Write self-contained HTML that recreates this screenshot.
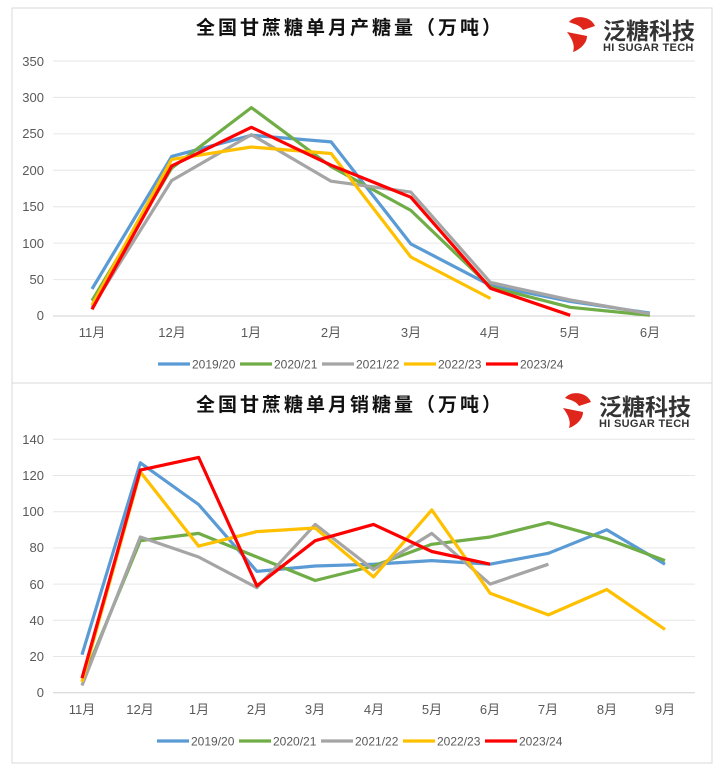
<!DOCTYPE html>
<html><head><meta charset="utf-8"><style>
html,body{margin:0;padding:0;background:#fff;}
svg{display:block;font-family:"Liberation Sans","Noto Sans CJK SC",sans-serif;}
</style></head><body>
<svg width="720" height="775" viewBox="0 0 720 775" xmlns="http://www.w3.org/2000/svg">
<rect x="12" y="8" width="700" height="375" fill="#fff" stroke="#d9d9d9"/>
<rect x="12" y="383" width="700" height="380" fill="#fff" stroke="#d9d9d9"/>

<!-- Chart 1 -->
<text x="350" y="34" font-size="19" font-weight="bold" text-anchor="middle" fill="#111" font-family="'Noto Sans CJK SC',sans-serif" letter-spacing="3">全国甘蔗糖单月产糖量（万吨）</text>
<g stroke="#e6e6e6" stroke-width="1">
<line x1="53" x2="695" y1="61" y2="61"/><line x1="53" x2="695" y1="97.4" y2="97.4"/><line x1="53" x2="695" y1="133.9" y2="133.9"/><line x1="53" x2="695" y1="170.3" y2="170.3"/><line x1="53" x2="695" y1="206.7" y2="206.7"/><line x1="53" x2="695" y1="243.1" y2="243.1"/><line x1="53" x2="695" y1="279.6" y2="279.6"/><line x1="53" x2="695" y1="316" y2="316" stroke="#d0d0d0"/>
</g>
<g font-size="13" fill="#595959" text-anchor="end">
<text x="44" y="66">350</text><text x="44" y="102">300</text><text x="44" y="138">250</text><text x="44" y="175">200</text><text x="44" y="211">150</text><text x="44" y="248">100</text><text x="44" y="284">50</text><text x="44" y="320">0</text>
</g>
<g font-size="13" fill="#595959" text-anchor="middle" font-family="'Liberation Sans','Noto Sans CJK SC',sans-serif">
<text x="92" y="337">11月</text><text x="172" y="337">12月</text><text x="251" y="337">1月</text><text x="331" y="337">2月</text><text x="411" y="337">3月</text><text x="490" y="337">4月</text><text x="570" y="337">5月</text><text x="650" y="337">6月</text>
</g>
<g fill="none" stroke-width="3.2" stroke-linejoin="round">
<polyline stroke="#5b9bd5" points="92,289 171.7,156.4 251.4,135.3 331.1,141.9 410.8,243.9 490.5,285.4 570.2,301.4 649.9,313.1"/>
<polyline stroke="#70ad47" points="92,300.7 171.7,168.1 251.4,107.6 331.1,166.6 410.8,210.4 490.5,286.9 570.2,307.3 649.9,315.3"/>
<polyline stroke="#a5a5a5" points="92,307.3 171.7,180.5 251.4,134.6 331.1,181.2 410.8,192.1 490.5,282.5 570.2,300 649.9,313.8"/>
<polyline stroke="#ffc000" points="92,305.1 171.7,159.4 251.4,147 331.1,153.5 410.8,257 490.5,298.5"/>
<polyline stroke="#ff0000" points="92,309.4 171.7,165.9 251.4,127.3 331.1,165.2 410.8,197.2 490.5,288.3 570.2,315.3"/>
</g>
<g font-size="12" fill="#595959">
<line x1="158" x2="190" y1="364" y2="364" stroke="#5b9bd5" stroke-width="3.2"/><text x="192" y="368.5">2019/20</text>
<line x1="240" x2="272" y1="364" y2="364" stroke="#70ad47" stroke-width="3.2"/><text x="274" y="368.5">2020/21</text>
<line x1="322" x2="354" y1="364" y2="364" stroke="#a5a5a5" stroke-width="3.2"/><text x="356" y="368.5">2021/22</text>
<line x1="404" x2="436" y1="364" y2="364" stroke="#ffc000" stroke-width="3.2"/><text x="438" y="368.5">2022/23</text>
<line x1="486" x2="518" y1="364" y2="364" stroke="#ff0000" stroke-width="3.2"/><text x="520" y="368.5">2023/24</text>
</g>
<!-- logo 1 -->
<g transform="translate(565,14)">
<path d="M4,8 C10,0 26,2 30,12 L18,16 C14,10 8,10 4,8 Z" fill="#e0261b"/>
<path d="M2,18 L22,22 C22,30 14,36 8,38 C10,32 8,26 2,18 Z" fill="#e0261b"/>
<text x="38" y="25" font-size="23" fill="#333" font-family="'Noto Sans CJK SC',sans-serif" font-weight="bold">泛糖科技</text>
<text x="38" y="37" font-size="11" fill="#333" font-weight="bold" letter-spacing="0.3">HI SUGAR TECH</text>
</g>

<!-- Chart 2 -->
<text x="350" y="411" font-size="19" font-weight="bold" text-anchor="middle" fill="#111" font-family="'Noto Sans CJK SC',sans-serif" letter-spacing="3">全国甘蔗糖单月销糖量（万吨）</text>
<g stroke="#e6e6e6" stroke-width="1">
<line x1="53" x2="695" y1="439.3" y2="439.3"/><line x1="53" x2="695" y1="475.5" y2="475.5"/><line x1="53" x2="695" y1="511.7" y2="511.7"/><line x1="53" x2="695" y1="547.9" y2="547.9"/><line x1="53" x2="695" y1="584.1" y2="584.1"/><line x1="53" x2="695" y1="620.3" y2="620.3"/><line x1="53" x2="695" y1="656.5" y2="656.5"/><line x1="53" x2="695" y1="692.7" y2="692.7" stroke="#d0d0d0"/>
</g>
<g font-size="13" fill="#595959" text-anchor="end">
<text x="44" y="444">140</text><text x="44" y="480">120</text><text x="44" y="516">100</text><text x="44" y="552">80</text><text x="44" y="589">60</text><text x="44" y="625">40</text><text x="44" y="661">20</text><text x="44" y="697">0</text>
</g>
<g font-size="13" fill="#595959" text-anchor="middle">
<text x="82" y="714">11月</text><text x="140" y="714">12月</text><text x="199" y="714">1月</text><text x="257" y="714">2月</text><text x="315" y="714">3月</text><text x="374" y="714">4月</text><text x="432" y="714">5月</text><text x="490" y="714">6月</text><text x="548" y="714">7月</text><text x="607" y="714">8月</text><text x="665" y="714">9月</text>
</g>
<g fill="none" stroke-width="3.2" stroke-linejoin="round">
<polyline stroke="#5b9bd5" points="82,654.7 140.3,462.8 198.6,504.5 256.9,571.4 315.2,566 373.5,564.2 431.8,560.6 490.1,564.2 548.4,553.3 606.7,529.8 665,564.2"/>
<polyline stroke="#70ad47" points="82,681.8 140.3,540.7 198.6,533.4 256.9,557 315.2,580.5 373.5,566 431.8,544.3 490.1,537 548.4,522.6 606.7,538.8 665,560.6"/>
<polyline stroke="#a5a5a5" points="82,685.5 140.3,537 198.6,557 256.9,587.7 315.2,524.4 373.5,569.6 431.8,533.4 490.1,584.1 548.4,564.2"/>
<polyline stroke="#ffc000" points="82,681.8 140.3,471.9 198.6,546.1 256.9,531.6 315.2,528 373.5,576.9 431.8,509.9 490.1,593.2 548.4,614.9 606.7,589.5 665,629.4"/>
<polyline stroke="#ff0000" points="82,678.2 140.3,470.1 198.6,457.4 256.9,585.9 315.2,540.7 373.5,524.4 431.8,551.5 490.1,564.2"/>
</g>
<g font-size="12" fill="#595959">
<line x1="157" x2="189" y1="741" y2="741" stroke="#5b9bd5" stroke-width="3.2"/><text x="191" y="745.5">2019/20</text>
<line x1="239" x2="271" y1="741" y2="741" stroke="#70ad47" stroke-width="3.2"/><text x="273" y="745.5">2020/21</text>
<line x1="321" x2="353" y1="741" y2="741" stroke="#a5a5a5" stroke-width="3.2"/><text x="355" y="745.5">2021/22</text>
<line x1="403" x2="435" y1="741" y2="741" stroke="#ffc000" stroke-width="3.2"/><text x="437" y="745.5">2022/23</text>
<line x1="485" x2="517" y1="741" y2="741" stroke="#ff0000" stroke-width="3.2"/><text x="519" y="745.5">2023/24</text>
</g>
<!-- logo 2 -->
<g transform="translate(561,390)">
<path d="M4,8 C10,0 26,2 30,12 L18,16 C14,10 8,10 4,8 Z" fill="#e0261b"/>
<path d="M2,18 L22,22 C22,30 14,36 8,38 C10,32 8,26 2,18 Z" fill="#e0261b"/>
<text x="38" y="25" font-size="23" fill="#333" font-family="'Noto Sans CJK SC',sans-serif" font-weight="bold">泛糖科技</text>
<text x="38" y="37" font-size="11" fill="#333" font-weight="bold" letter-spacing="0.3">HI SUGAR TECH</text>
</g>
</svg>
</body></html>
